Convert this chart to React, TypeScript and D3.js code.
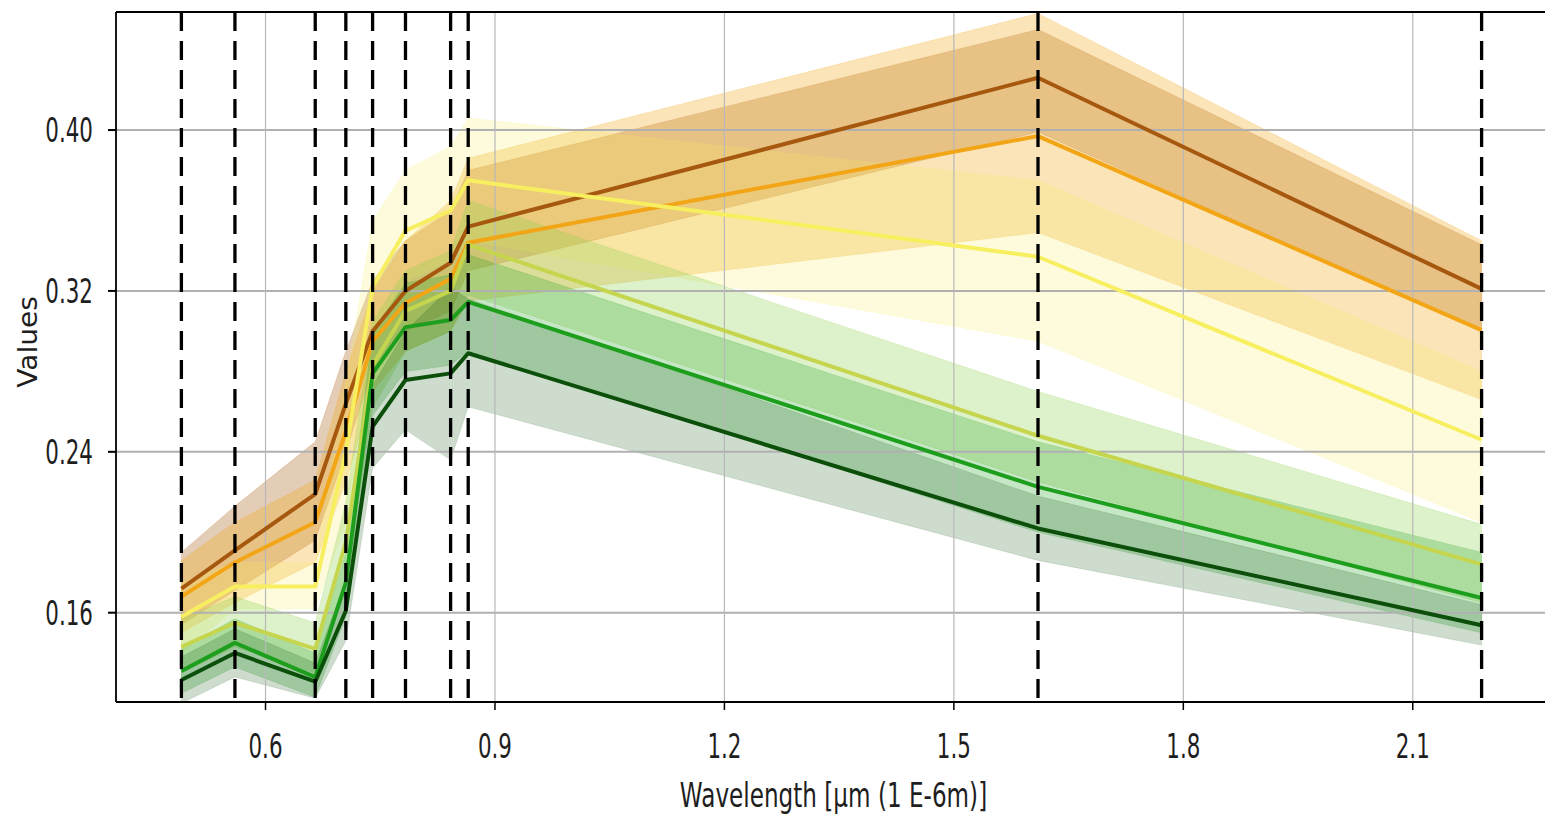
import React from "react";
import * as d3 from "d3";

// Sentinel-2 band centre wavelengths (µm)
const wavelengths = [0.49, 0.56, 0.665, 0.705, 0.74, 0.783, 0.842, 0.865, 1.61, 2.19];
const xTicks = [0.6, 0.9, 1.2, 1.5, 1.8, 2.1];
const yTicks = [0.16, 0.24, 0.32, 0.4];

const brownMean = [0.172, 0.191, 0.219, 0.264, 0.3, 0.32, 0.334, 0.352, 0.426, 0.321];
const brownLow = [0.154, 0.171, 0.196, 0.24, 0.281, 0.3, 0.31, 0.33, 0.399, 0.3];
const brownHigh = [0.19, 0.213, 0.245, 0.29, 0.325, 0.345, 0.36, 0.38, 0.45, 0.343];

const orangeMean = [0.168, 0.185, 0.205, 0.25, 0.295, 0.314, 0.326, 0.344, 0.397, 0.3005];
const orangeLow = [0.15, 0.165, 0.185, 0.225, 0.27, 0.29, 0.3, 0.315, 0.349, 0.266];
const orangeHigh = [0.186, 0.205, 0.226, 0.28, 0.32, 0.345, 0.365, 0.386, 0.458, 0.345];

const yellowMean = [0.158, 0.173, 0.173, 0.24, 0.322, 0.35, 0.36, 0.375, 0.337, 0.246];
const yellowLow = [0.14, 0.162, 0.162, 0.205, 0.295, 0.325, 0.335, 0.345, 0.295, 0.205];
const yellowHigh = [0.175, 0.185, 0.185, 0.275, 0.355, 0.38, 0.392, 0.406, 0.375, 0.28];

const oliveMean = [0.143, 0.155, 0.142, 0.195, 0.283, 0.31, 0.32, 0.343, 0.248, 0.184];
const oliveLow = [0.13, 0.143, 0.13, 0.175, 0.262, 0.29, 0.3, 0.318, 0.225, 0.165];
const oliveHigh = [0.157, 0.168, 0.155, 0.215, 0.305, 0.33, 0.34, 0.365, 0.27, 0.204];

const greenMean = [0.131, 0.145, 0.128, 0.175, 0.279, 0.302, 0.3055, 0.3146, 0.2226, 0.1673];
const greenLow = [0.12, 0.133, 0.118, 0.158, 0.258, 0.28, 0.283, 0.29, 0.2, 0.15];
const greenHigh = [0.142, 0.157, 0.14, 0.19, 0.3, 0.324, 0.328, 0.338, 0.245, 0.19];

const darkGreenMean = [0.1265, 0.14, 0.1257, 0.161, 0.2525, 0.2757, 0.279, 0.289, 0.2019, 0.1538];
const darkGreenLow = [0.115, 0.128, 0.1175, 0.146, 0.232, 0.251, 0.236, 0.2624, 0.186, 0.1439];
const darkGreenHigh = [0.138, 0.152, 0.135, 0.176, 0.273, 0.3, 0.322, 0.316, 0.218, 0.164];

const lineColors = ["#a6580f", "#f2a515", "#f7ef60", "#c5d64e", "#1d9e1d", "#0b4f0b"];
const bandColors = ["#a6580f", "#f2a515", "#f7ef60", "#8fd14f", "#1d9e1d", "#0b4f0b"];
const fillOpacities = [0.3, 0.3, 0.22, 0.3, 0.25, 0.2];

const series = [
  { mean: brownMean, low: brownLow, high: brownHigh },
  { mean: orangeMean, low: orangeLow, high: orangeHigh },
  { mean: yellowMean, low: yellowLow, high: yellowHigh },
  { mean: oliveMean, low: oliveLow, high: oliveHigh },
  { mean: greenMean, low: greenLow, high: greenHigh },
  { mean: darkGreenMean, low: darkGreenLow, high: darkGreenHigh },
];

const W = 1545;
const H = 815;
const left = 116;
const right = 1547;
const top = 12;
const bottom = 702;
const FONT = "DejaVu Sans";
const FS = 34;
const SX_TICK = 0.63;
const SX_LABEL = 0.68;

export default function App() {
  const x = d3.scaleLinear().domain([0.4045, 2.2755]).range([left, right]);
  const y = d3.scaleLinear().domain([0.1156, 0.4587]).range([bottom, top]);

  const makeArea = (low: number[], high: number[]) =>
    d3
      .area<number>()
      .x((d) => x(d))
      .y0((_, i) => y(low[i]))
      .y1((_, i) => y(high[i]))(wavelengths) as string;

  const makeLine = (vals: number[]) =>
    d3
      .line<number>()
      .x((d) => x(d))
      .y((_, i) => y(vals[i]))(wavelengths) as string;

  return (
    <svg
      width={W}
      height={H}
      style={{ position: "absolute", left: 0, top: 0, background: "#fff", display: "block" }}
    >
      <defs>
        <clipPath id="plotClip">
          <rect x={left} y={top} width={right - left} height={bottom - top} />
        </clipPath>
      </defs>
      <rect x={0} y={0} width={W} height={H} fill="#fff" />

      <g clipPath="url(#plotClip)">
        {series.map((s, i) => (
          <path
            key={"band" + i}
            d={makeArea(s.low, s.high)}
            fill={bandColors[i]}
            fillOpacity={fillOpacities[i]}
            stroke={bandColors[i]}
            strokeOpacity={fillOpacities[i] * 0.6}
            strokeWidth={1}
          />
        ))}
      </g>

      {/* grid */}
      {yTicks.map((t) => (
        <line key={"gy" + t} x1={left} x2={right} y1={y(t)} y2={y(t)} stroke="#b0b0b0" strokeWidth={2} />
      ))}
      {xTicks.map((t) => (
        <line key={"gx" + t} x1={x(t)} x2={x(t)} y1={top} y2={bottom} stroke="#b8b8b8" strokeWidth={1.2} />
      ))}

      <g clipPath="url(#plotClip)">
        {series.map((s, i) => (
          <path
            key={"line" + i}
            d={makeLine(s.mean)}
            fill="none"
            stroke={lineColors[i]}
            strokeWidth={4}
            strokeLinejoin="round"
          />
        ))}
      </g>

      {/* band markers */}
      {wavelengths.map((w) => (
        <line
          key={"v" + w}
          x1={x(w)}
          x2={x(w)}
          y1={top}
          y2={bottom}
          stroke="#000"
          strokeWidth={3.3}
          strokeDasharray="19,10"
        />
      ))}

      {/* spines */}
      <line x1={left} x2={right} y1={top} y2={top} stroke="#000" strokeWidth={2} />
      <line x1={left} x2={right} y1={bottom} y2={bottom} stroke="#000" strokeWidth={2.2} />
      <line x1={left} x2={left} y1={top} y2={bottom} stroke="#000" strokeWidth={1.8} />

      {/* y ticks */}
      {yTicks.map((t) => (
        <g key={"yt" + t}>
          <line x1={left - 8} x2={left} y1={y(t)} y2={y(t)} stroke="#000" strokeWidth={2} />
          <text
            transform={`translate(93, ${y(t) + 0.3645 * FS}) scale(${SX_TICK},1)`}
            textAnchor="end"
            fontFamily={FONT}
            fontSize={FS}
            fill="#1e1e1e"
          >
            {d3.format(".2f")(t)}
          </text>
        </g>
      ))}

      {/* x ticks */}
      {xTicks.map((t) => (
        <g key={"xt" + t}>
          <line x1={x(t)} x2={x(t)} y1={bottom} y2={bottom + 8} stroke="#000" strokeWidth={1.5} />
          <text
            transform={`translate(${x(t)}, 758) scale(${SX_TICK},1)`}
            textAnchor="middle"
            fontFamily={FONT}
            fontSize={FS}
            fill="#1e1e1e"
          >
            {d3.format(".1f")(t)}
          </text>
        </g>
      ))}

      <text
        transform={`translate(${(left + right) / 2 + 2}, 807) scale(${SX_LABEL},1)`}
        textAnchor="middle"
        fontFamily={FONT}
        fontSize={FS}
        fill="#1e1e1e"
      >
        Wavelength [μm (1 E-6m)]
      </text>

      <text
        transform={`translate(37, 342) scale(0.95,1) rotate(-90)`}
        textAnchor="middle"
        fontFamily={FONT}
        fontSize={28}
        fill="#1e1e1e"
      >
        Values
      </text>
    </svg>
  );
}
